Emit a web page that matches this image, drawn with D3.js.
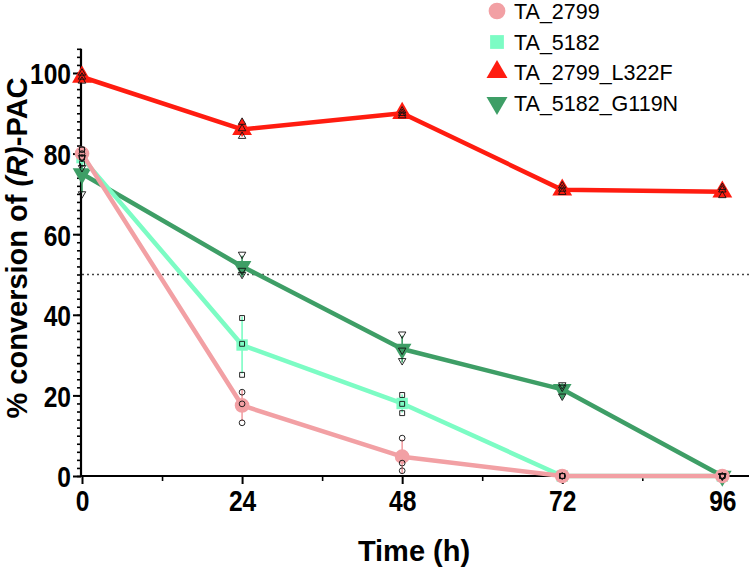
<!DOCTYPE html>
<html><head><meta charset="utf-8">
<script src="https://cdn.jsdelivr.net/npm/d3@7"></script>
<style>body{margin:0;background:#fff}svg{display:block}text{font-family:"Liberation Sans",Arial,sans-serif}</style>
</head><body><svg id="c" width="751" height="570"></svg>
<script>
const times = [0, 24, 48, 72, 96];
const seriesNames = ["TA_2799", "TA_5182", "TA_2799_L322F", "TA_5182_G119N"];
const xTicks = [0, 24, 48, 72, 96];
const yTicks = [0, 20, 40, 60, 80, 100];
// means
const mean_TA_2799 = [80, 17.5, 4.8, 0, 0];
const mean_TA_5182 = [79, 32.5, 18, 0, 0];
const mean_L322F = [99, 86, 90, 71, 70.5];
const mean_G119N = [75, 52, 31.5, 21.5, 0];
// replicate values
const rep_TA_2799 = [[81, 80, 79], [20.8, 17.9, 13.2], [9.4, 3.2, 1.3], [0, 0, 0], [0, 0, 0]];
const rep_TA_5182 = [[81, 79, 77.5], [39.2, 32.8, 25.1], [20.1, 17.9, 15.6], [0, 0, 0], [0, 0, 0]];
const rep_L322F = [[100, 99, 98], [87.8, 86.2, 84.3], [90.6, 90, 89.4], [72, 71.2, 70.4], [71.6, 71, 69.6]];
const rep_G119N = [[79, 76.5, 70], [55, 51, 50], [35.2, 31.2, 28.6], [22.6, 22, 19.8], [0, 0, 0]];
const threshold = 50;

const colors = {"TA_2799": "#F2A0A4", "TA_5182": "#7CFCC4", "TA_2799_L322F": "#FF1C10", "TA_5182_G119N": "#3E9E66"};
const shapes = {"TA_2799": d3.symbolCircle, "TA_5182": d3.symbolSquare, "TA_2799_L322F": d3.symbolTriangle, "TA_5182_G119N": "down"};
const means = {"TA_2799": mean_TA_2799, "TA_5182": mean_TA_5182, "TA_2799_L322F": mean_L322F, "TA_5182_G119N": mean_G119N};
const reps = {"TA_2799": rep_TA_2799, "TA_5182": rep_TA_5182, "TA_2799_L322F": rep_L322F, "TA_5182_G119N": rep_G119N};

const svg = d3.select("#c");
const x = d3.scaleLinear().domain([0, 100]).range([82, 749]);
const y = d3.scaleLinear().domain([0, 106]).range([476, 48.8]);
const SX = 0.82;

function sym(name, size) {
  const s = shapes[name];
  if (s === "down") return d3.symbol(d3.symbolTriangle, size)();
  return d3.symbol(s, size)();
}
function rot(name) { return shapes[name] === "down" ? " rotate(180)" : ""; }

// threshold line
svg.append("line").attr("x1", x(0)).attr("x2", x(100)).attr("y1", y(threshold)).attr("y2", y(threshold))
  .attr("stroke", "#444").attr("stroke-width", 1.6).attr("stroke-dasharray", "2,3");

// axes
const yAxis = svg.append("g").attr("transform", `translate(${x(0)-1},0)`);
yAxis.call(d3.axisLeft(y).tickValues(d3.range(0, 107, 2)).tickSize(4).tickFormat(""));
yAxis.call(g => g.selectAll(".tick line").attr("stroke-width", 1.6));
yAxis.select(".domain").attr("stroke-width", 2.2).attr("d", `M0,${y(106)}V${y(0)}`);
const yMaj = svg.append("g").attr("transform", `translate(${x(0)-1},0)`);
yMaj.call(d3.axisLeft(y).tickValues(yTicks).tickSize(8).tickPadding(3));
yMaj.select(".domain").remove();
yMaj.selectAll(".tick line").attr("stroke-width", 2);
yMaj.selectAll(".tick text").attr("font-size", 30).attr("font-weight", "bold").attr("fill", "#000")
  .attr("dy", "0.36em").attr("x", -10 / SX).attr("transform", `scale(${SX},1)`);

const xAxis = svg.append("g").attr("transform", `translate(0,${y(0)})`);
xAxis.call(d3.axisBottom(x).tickValues([12, 36, 60, 84]).tickSize(5).tickFormat(""));
xAxis.select(".domain").attr("stroke-width", 2.2).attr("d", `M${x(0)-2},0H${x(100)}`);
xAxis.selectAll(".tick line").attr("stroke-width", 1.6);
const xMaj = svg.append("g").attr("transform", `translate(0,${y(0)})`);
xMaj.call(d3.axisBottom(x).tickValues(xTicks).tickSize(8).tickPadding(4));
xMaj.select(".domain").remove();
xMaj.selectAll(".tick line").attr("stroke-width", 2);
xMaj.selectAll(".tick text").attr("font-size", 30).attr("font-weight", "bold").attr("fill", "#000")
  .attr("y", 13).attr("dy", "0.72em").attr("transform", `scale(${SX},1)`);

// titles
svg.append("text").attr("x", 414).attr("y", 561).attr("text-anchor", "middle")
  .attr("font-size", 29).attr("font-weight", "bold").text("Time (h)");
const yt = svg.append("text").attr("transform", `translate(27,248) rotate(-90)`).attr("text-anchor", "middle")
  .attr("font-size", 29).attr("font-weight", "bold");
yt.append("tspan").text("% conversion of ");
yt.append("tspan").attr("font-style", "italic").text("(R)");
yt.append("tspan").text("-PAC");

// series
const drawOrder = ["TA_2799_L322F", "TA_5182_G119N", "TA_5182", "TA_2799"];
const line = d3.line().x(d => x(d[0])).y(d => y(d[1]));
const msize = {"TA_2799": 170, "TA_5182": 130, "TA_2799_L322F": 170, "TA_5182_G119N": 150};
drawOrder.forEach(name => {
  const c = colors[name];
  const g = svg.append("g");
  // error bars (mean ± SD)
  times.forEach((t, i) => {
    const sd = d3.deviation(reps[name][i]) || 0;
    if (sd > 0.6) {
      g.append("line").attr("x1", x(t)).attr("x2", x(t))
        .attr("y1", y(Math.min(106, means[name][i] + sd))).attr("y2", y(Math.max(0, means[name][i] - sd)))
        .attr("stroke", c).attr("stroke-width", 1.6);
    }
  });
  g.append("path").datum(times.map((t, i) => [t, means[name][i]]))
    .attr("d", line).attr("fill", "none").attr("stroke", c).attr("stroke-width", 4.5).attr("stroke-linejoin", "round");
  g.selectAll("path.m").data(times.map((t, i) => [t, means[name][i]])).join("path").attr("class", "m")
    .attr("d", sym(name, msize[name]))
    .attr("transform", d => `translate(${x(d[0])},${y(d[1])})${rot(name)}`)
    .attr("fill", c);
});
// replicate points on top
drawOrder.forEach(name => {
  const pts = [];
  times.forEach((t, i) => reps[name][i].forEach(v => pts.push([t, v])));
  svg.append("g").selectAll("path").data(pts).join("path")
    .attr("d", sym(name, name === "TA_2799" ? 26 : 24))
    .attr("transform", d => `translate(${x(d[0])},${y(d[1])})${rot(name)}`)
    .attr("fill", "none").attr("stroke", "#111").attr("stroke-width", 0.9);
});

// legend
const legY = [11, 42, 72, 103];
const leg = svg.append("g");
seriesNames.forEach((name, i) => {
  leg.append("path").attr("d", sym(name, name === "TA_2799" ? 220 : 190))
    .attr("transform", `translate(497,${legY[i]})${rot(name)}`).attr("fill", colors[name]);
  leg.append("text").attr("x", 514).attr("y", legY[i] + 7.5).attr("font-size", 21.5).attr("fill", "#000").text(name);
});
</script></body></html>
